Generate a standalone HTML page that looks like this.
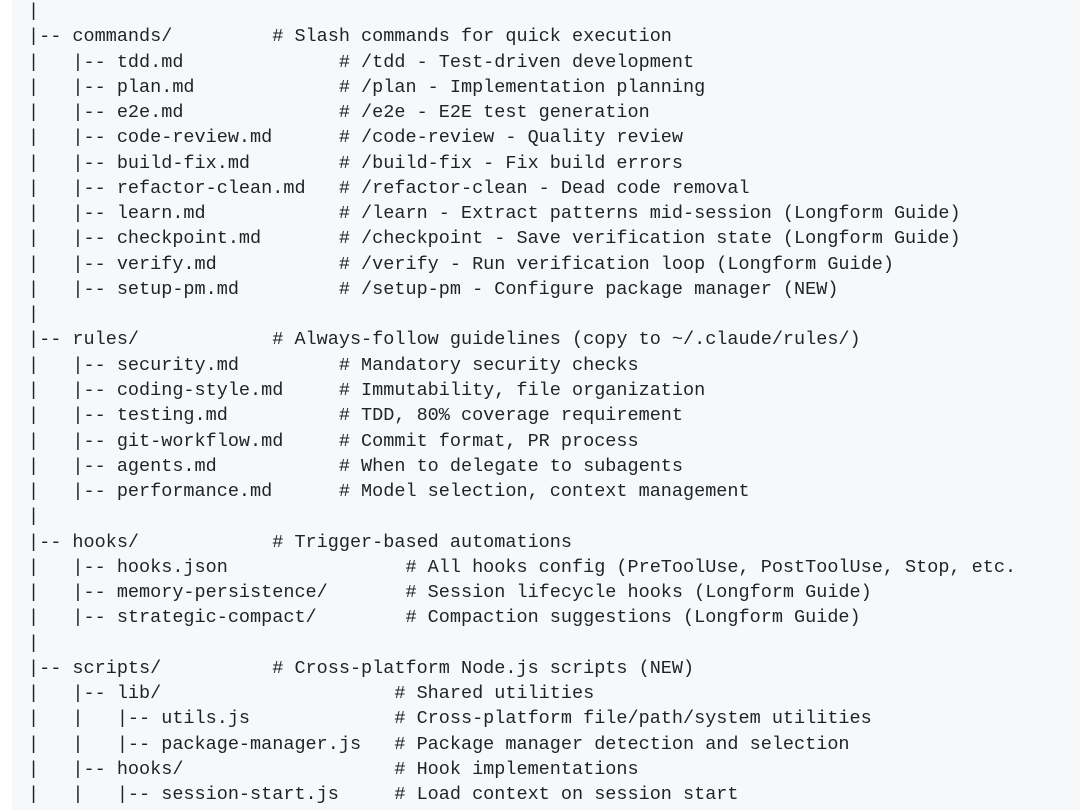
<!DOCTYPE html>
<html><head><meta charset="utf-8"><style>
html,body{margin:0;padding:0;width:1080px;height:810px;overflow:hidden;background:#fff}
.bg{position:absolute;left:12px;top:0;width:1068px;height:810px;background:#f6f8fa}
pre{position:absolute;left:28px;top:-1px;margin:0;font-family:"Liberation Mono",monospace;font-size:18.5px;line-height:25.27px;color:#1f2328;white-space:pre}
</style></head><body><div class="bg"></div><pre>|
|-- commands/         # Slash commands for quick execution
|   |-- tdd.md              # /tdd - Test-driven development
|   |-- plan.md             # /plan - Implementation planning
|   |-- e2e.md              # /e2e - E2E test generation
|   |-- code-review.md      # /code-review - Quality review
|   |-- build-fix.md        # /build-fix - Fix build errors
|   |-- refactor-clean.md   # /refactor-clean - Dead code removal
|   |-- learn.md            # /learn - Extract patterns mid-session (Longform Guide)
|   |-- checkpoint.md       # /checkpoint - Save verification state (Longform Guide)
|   |-- verify.md           # /verify - Run verification loop (Longform Guide)
|   |-- setup-pm.md         # /setup-pm - Configure package manager (NEW)
|
|-- rules/            # Always-follow guidelines (copy to ~/.claude/rules/)
|   |-- security.md         # Mandatory security checks
|   |-- coding-style.md     # Immutability, file organization
|   |-- testing.md          # TDD, 80% coverage requirement
|   |-- git-workflow.md     # Commit format, PR process
|   |-- agents.md           # When to delegate to subagents
|   |-- performance.md      # Model selection, context management
|
|-- hooks/            # Trigger-based automations
|   |-- hooks.json                # All hooks config (PreToolUse, PostToolUse, Stop, etc.
|   |-- memory-persistence/       # Session lifecycle hooks (Longform Guide)
|   |-- strategic-compact/        # Compaction suggestions (Longform Guide)
|
|-- scripts/          # Cross-platform Node.js scripts (NEW)
|   |-- lib/                     # Shared utilities
|   |   |-- utils.js             # Cross-platform file/path/system utilities
|   |   |-- package-manager.js   # Package manager detection and selection
|   |-- hooks/                   # Hook implementations
|   |   |-- session-start.js     # Load context on session start
</pre></body></html>
